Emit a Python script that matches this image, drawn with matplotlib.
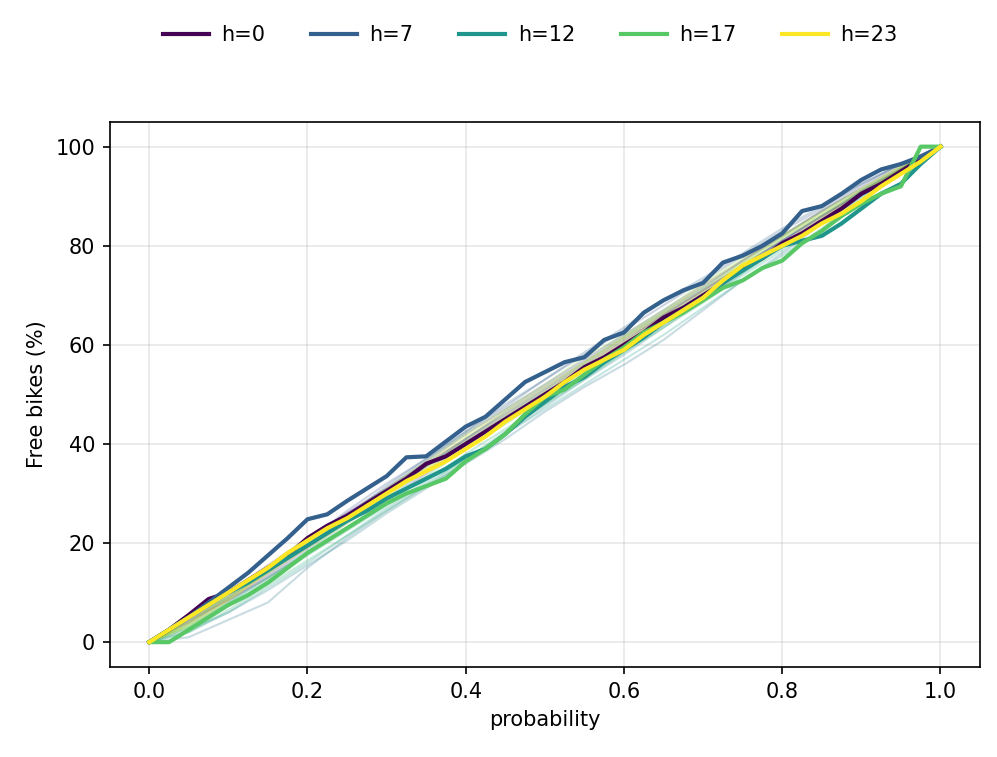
#!/usr/bin/env python3

import numpy as np
import matplotlib.pyplot as plt

# probability grid for the highlighted hours (step 0.025)
prob = np.linspace(0, 1, 41)

h0 = [0, 2.5, 5.5, 8.7, 10, 12.5, 15, 17.5, 21, 23.5, 25.5, 28, 30.5, 33, 36, 37.5,
      40, 42.5, 45, 47.5, 50, 52.5, 55.5, 57.5, 60, 62.5, 65.5, 67.5, 70, 72.5,
      75.5, 77.5, 80.5, 82.5, 85, 87.5, 90.5, 92.5, 95, 97.5, 100]
h7 = [0, 2.5, 5, 8, 11, 14, 17.5, 21, 24.8, 25.8, 28.5, 31, 33.5, 37.3, 37.5, 40.5,
      43.5, 45.5, 49, 52.5, 54.5, 56.5, 57.5, 61, 62.5, 66.5, 69, 71, 72.5, 76.6,
      78, 80, 82.5, 87, 88, 90.5, 93.3, 95.4, 96.5, 98, 100]
h12 = [0, 2.5, 5, 7.5, 10, 12, 14.5, 17, 19.5, 22, 24.5, 26.5, 29, 31, 33, 35,
       37.5, 39, 42, 45.5, 48.5, 51.5, 53.5, 56.5, 59, 61.5, 64.5, 67, 69.5, 72.5,
       75, 77.5, 80, 81, 82, 84.5, 87.5, 90.5, 92.5, 96.5, 100]
h17 = [0, 0, 2.5, 5, 7.5, 9.5, 12, 15, 18, 20.5, 23, 25.5, 28, 30, 31.5, 33,
       36.5, 39, 42, 46, 49.5, 51, 54, 57, 59.5, 62.5, 64.5, 66.5, 69, 71.5,
       73, 75.5, 77, 80.5, 83, 86, 88.5, 90.5, 92, 100, 100]
h23 = [0, 2.5, 5, 7.5, 10, 12.5, 15, 18, 20.5, 23, 25, 27.5, 30, 32.5, 34.5, 36.5,
       39, 41.5, 44.5, 47, 49.5, 52.5, 55, 57, 59, 62, 64.5, 67, 69.5, 73,
       76, 78, 80, 82, 84.5, 86.5, 89, 92, 94.5, 97, 100]

highlight_hours = [0, 7, 12, 17, 23]
highlight_values = [h0, h7, h12, h17, h23]

# the other hours, coarser grid (step 0.05)
prob_faint = np.linspace(0, 1, 21)
faint_hours = [1, 2, 3, 4, 5, 6, 8, 9, 10, 11, 13, 14, 15, 16, 18, 19, 20, 21, 22]
faint_values = [
    [0, 5, 10, 15, 20.5, 26, 31, 36, 41, 46, 51, 56, 61, 66, 71, 76, 81, 86, 91, 95.5, 100],
    [0, 4, 8.5, 13.5, 19, 24.5, 30, 35.5, 40.5, 45.5, 50.5, 55.5, 60.5, 66, 71, 76, 81, 86, 90.5, 95.5, 100],
    [0, 4.5, 8.5, 13, 18, 23, 28.5, 34, 39.5, 45, 50, 55, 60, 65, 70, 75.5, 80.5, 85.5, 91, 95.5, 100],
    [0, 5.5, 10, 15.5, 21, 26, 31, 36.5, 42, 47, 52, 57, 62, 67, 72, 77, 82, 87, 91.5, 96, 100],
    [0, 4, 9, 14, 19.5, 25, 30.5, 35.5, 41, 46.5, 51.5, 56.5, 61.5, 66.5, 71.5, 77, 82, 87, 92, 96.5, 100],
    [0, 4.5, 9.5, 15, 20.5, 26.5, 32, 37, 42.5, 47.5, 53, 58, 63, 68, 73, 78, 83, 87.5, 92.5, 96.5, 100],
    [0, 5, 9, 14.5, 20, 25.5, 31.5, 37, 42.5, 48, 53, 58.5, 63.5, 69, 73.5, 78.5, 83.5, 88, 92.5, 96.5, 100],
    [0, 1, 4.5, 8, 15, 21, 26.5, 31.5, 36, 41, 46.5, 51.5, 56, 61, 67, 73, 78.5, 84.5, 90, 95, 100],
    [0, 2.5, 6, 10.5, 15.5, 20.5, 26, 31, 36.5, 42, 47.5, 53, 58, 63.5, 69, 74.5, 80, 85, 90.5, 95.5, 100],
    [0, 3.5, 8, 13, 18.5, 24, 29, 34.5, 40, 45, 50, 55, 60, 65.5, 70.5, 76, 81, 86, 91, 95.5, 100],
    [0, 2, 6, 11, 16, 21.5, 27, 32, 37, 42, 47, 52, 57, 62, 67.5, 73, 78, 83.5, 89, 94.5, 100],
    [0, 3, 7.5, 12.5, 17.5, 22.5, 27.5, 32.5, 38, 43, 48, 53.5, 58.5, 64, 69, 74.5, 79.5, 84.5, 89.5, 95, 100],
    [0, 2, 6.5, 11.5, 16.5, 21.5, 26.5, 31.5, 37, 42.5, 48, 53, 58.5, 63.5, 68.5, 74, 79, 84.5, 90, 95, 100],
    [0, 3, 8, 13, 18, 23, 28, 33.5, 39, 44, 49.5, 54.5, 59.5, 64.5, 69.5, 75, 80, 85, 90, 95, 100],
    [0, 3.5, 9, 14, 19.5, 25, 30, 35.5, 41, 46, 51, 56.5, 61.5, 66.5, 71.5, 76.5, 81.5, 86.5, 91, 95.5, 100],
    [0, 4, 9.5, 15, 20.5, 25.5, 31, 36.5, 42, 47, 52, 57.5, 62, 67, 72.5, 77.5, 82, 87, 91.5, 96, 100],
    [0, 3, 8.5, 14, 19.5, 24.5, 29.5, 35, 40.5, 45.5, 50.5, 56, 61, 66, 71, 76.5, 81.5, 86, 91, 95.5, 100],
    [0, 4, 9, 14.5, 20, 25, 30.5, 36, 41.5, 46.5, 51.5, 56.5, 61.5, 66.5, 72, 77, 82, 86.5, 91.5, 96, 100],
    [0, 3.5, 8.5, 14, 19, 24, 29.5, 35, 40, 45, 50, 55.5, 60.5, 65.5, 70.5, 75.5, 80.5, 85.5, 90.5, 95.5, 100],
]


def main():
    cmap = plt.get_cmap("viridis")
    fig = plt.figure(figsize=(997 / 150, 757 / 150), dpi=150)
    ax = fig.add_axes([0.110, 0.119, 0.873, 0.720])

    for h, vals in zip(faint_hours, faint_values):
        ax.plot(prob_faint, vals, color=cmap(h / 23), alpha=0.25, lw=1)

    for h, vals in zip(highlight_hours, highlight_values):
        ax.plot(prob, vals, color=cmap(h / 23), lw=2, label=f"h={h}")

    ax.grid(True, alpha=0.3)
    ax.set_xlabel("probability")
    ax.set_ylabel("Free bikes (%)")

    fig.legend(loc="center", bbox_to_anchor=(0.532, 0.954), ncol=5,
               frameon=False, fontsize=10, handlelength=2.2,
               handletextpad=0.6, columnspacing=2.2)

    fig.savefig("out.png", dpi=150)


if __name__ == "__main__":
    main()
